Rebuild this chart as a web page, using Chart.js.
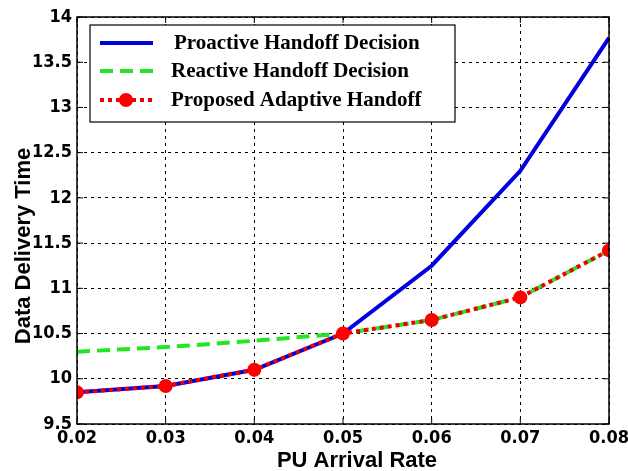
<!DOCTYPE html>
<html>
<head>
<meta charset="utf-8">
<script src="https://cdn.jsdelivr.net/npm/chart.js@4"></script>
<style>
  html, body { margin: 0; padding: 0; background: #fff; }
  #wrap { width: 628px; height: 471px; }
</style>
</head>
<body>
<div id="wrap"><canvas id="myChart" width="628" height="471"></canvas></div>
<script>
const ctx = document.getElementById('myChart').getContext('2d')

// values
const rates = [0.02, 0.03, 0.04, 0.05, 0.06, 0.07, 0.08]
const proactive = [9.85, 9.92, 10.1, 10.5, 11.25, 12.3, 13.77]
const reactive = [10.3, 10.35, 10.42, 10.5, 10.65, 10.9, 11.42]
const proposed = [9.85, 9.92, 10.1, 10.5, 10.65, 10.9, 11.42]
const seriesNames = ['Proactive Handoff Decision', 'Reactive Handoff Decision', 'Proposed Adaptive Handoff']
const xTitle = 'PU Arrival Rate'
const yTitle = 'Data Delivery Time'

const toPoints = (vals) => vals.map((v, i) => ({ x: rates[i], y: v }))

const tickFont = { family: "'Liberation Sans Narrow', 'DejaVu Sans Condensed', Arial", size: 18, weight: 'bold' }

// matlab style frame, inward ticks, boxed legend, axis titles
const framePlugin = {
    id: 'frame',
    afterDraw(chart) {
        const c = chart.ctx
        const a = chart.chartArea
        const xs = chart.scales.x, ys = chart.scales.y
        c.save()
        c.strokeStyle = '#000'
        c.lineWidth = 1.5
        c.setLineDash([])
        c.strokeRect(a.left, a.top, a.right - a.left, a.bottom - a.top)
        c.lineWidth = 1
        c.beginPath()
        xs.ticks.forEach(t => {
            const px = xs.getPixelForValue(t.value)
            c.moveTo(px, a.bottom); c.lineTo(px, a.bottom - 6)
            c.moveTo(px, a.top); c.lineTo(px, a.top + 6)
        })
        ys.ticks.forEach(t => {
            const py = ys.getPixelForValue(t.value)
            c.moveTo(a.left, py); c.lineTo(a.left + 6, py)
            c.moveTo(a.right, py); c.lineTo(a.right - 6, py)
        })
        c.stroke()

        // axis titles
        c.fillStyle = '#000'
        c.font = "bold 22px 'Liberation Sans', Arial, sans-serif"
        c.textAlign = 'center'
        c.textBaseline = 'middle'
        c.fillText(xTitle, 357, 461)
        c.save()
        c.translate(24, 246)
        c.rotate(-Math.PI / 2)
        c.fillText(yTitle, 0, 0)
        c.restore()
        c.textAlign = 'left'

        // legend box
        const bx = 90, by = 25, bw = 365, bh = 97
        c.fillStyle = '#fff'
        c.fillRect(bx, by, bw, bh)
        c.strokeStyle = '#000'
        c.lineWidth = 1.2
        c.strokeRect(bx, by, bw, bh)
        const rows = [43, 71, 100]
        chart.data.datasets.forEach((ds, i) => {
            const y = rows[i]
            c.strokeStyle = ds.borderColor
            c.lineWidth = ds.borderWidth
            c.setLineDash(ds.borderDash || [])
            c.beginPath()
            c.moveTo(100, y); c.lineTo(153, y)
            c.stroke()
            c.setLineDash([])
            if (ds.pointRadius > 0) {
                c.fillStyle = ds.pointBackgroundColor
                c.beginPath()
                c.arc(126, y, ds.pointRadius, 0, Math.PI * 2)
                c.fill()
            }
            c.fillStyle = '#000'
            c.font = "bold 21px 'Liberation Serif', 'Times New Roman', serif"
            c.textBaseline = 'middle'
            c.fillText(ds.label, i === 0 ? 174 : 171, y + 1)
        })
        c.restore()
    }
}

const data = {
    datasets: [
        {
            label: seriesNames[0],
            data: toPoints(proactive),
            borderColor: '#0000e0',
            borderWidth: 4,
            pointRadius: 0,
            order: 2,
        },
        {
            label: seriesNames[1],
            data: toPoints(reactive),
            borderColor: '#22e622',
            borderWidth: 4,
            borderDash: [13, 7],
            pointRadius: 0,
            order: 3,
        },
        {
            label: seriesNames[2],
            data: toPoints(proposed),
            borderColor: '#ee0000',
            borderWidth: 4,
            borderDash: [4, 4],
            pointRadius: 7,
            pointBackgroundColor: '#ff0000',
            pointBorderColor: '#ff0000',
            pointBorderWidth: 0,
            order: 1,
        },
    ],
}

const config = {
    type: 'line',
    data: data,
    options: {
        responsive: false,
        animation: false,
        layout: { padding: { top: 17, right: 19, left: 0, bottom: 0 } },
        plugins: {
            legend: { display: false },
            tooltip: { enabled: false },
        },
        scales: {
            x: {
                type: 'linear',
                min: 0.02,
                max: 0.08,
                ticks: {
                    stepSize: 0.01,
                    color: '#000',
                    font: tickFont,
                    padding: 4,
                    maxRotation: 0,
                    callback: (v) => v.toFixed(2),
                },
                grid: { color: '#000', lineWidth: 1, drawTicks: false },
                border: { display: false, dash: [3, 4] },
                afterFit: (s) => { s.height = 47; s.paddingRight = 0; s.paddingLeft = 0 },
            },
            y: {
                min: 9.5,
                max: 14,
                ticks: {
                    stepSize: 0.5,
                    color: '#000',
                    font: tickFont,
                    padding: 5,
                    callback: (v) => String(Math.round(v * 10) / 10),
                },
                grid: { color: '#000', lineWidth: 1, drawTicks: false },
                border: { display: false, dash: [3, 4] },
                afterFit: (s) => { s.width = 77; s.paddingTop = 0; s.paddingBottom = 0 },
            },
        },
    },
    plugins: [framePlugin],
}

const myChart = new Chart(ctx, config)
</script>
</body>
</html>
